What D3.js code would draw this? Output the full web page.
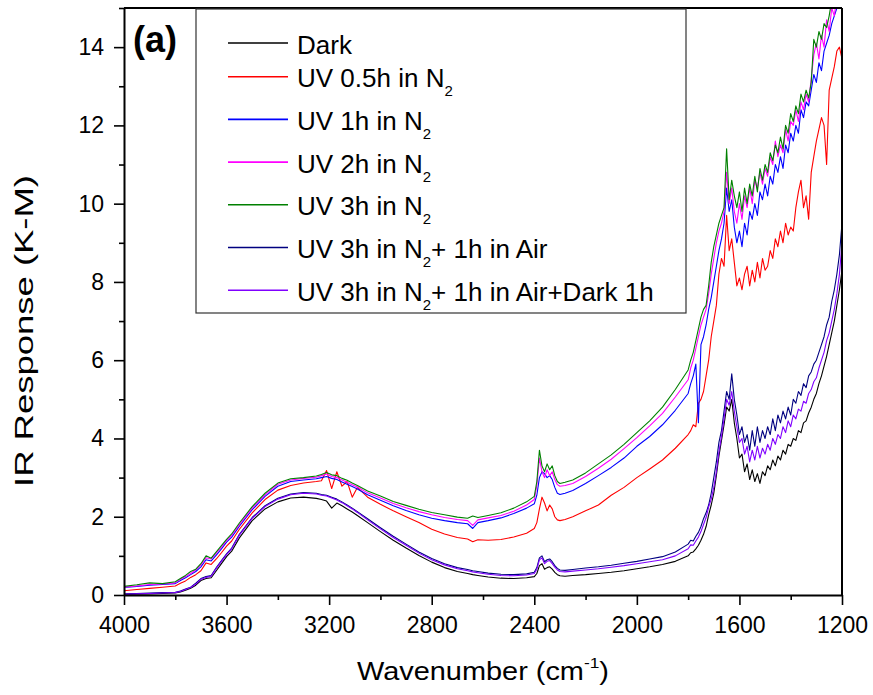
<!DOCTYPE html>
<html>
<head>
<meta charset="utf-8">
<script src="https://cdn.jsdelivr.net/npm/d3@7"></script>
<style>
  body { margin: 0; background: #fff; }
  svg { font-family: "Liberation Sans", Arial, sans-serif; }
  .axis path, .axis line { stroke: #000; }
  .axis text { font-size: 23px; fill: #000; font-family: "Liberation Sans", Arial, sans-serif; }
</style>
</head>
<body>
<div id="chart"></div>
<script>
// Define the parameters
const width = 873, height = 695;
const margin = {top: 8, right: 31, bottom: 100, left: 124};
const plotW = width - margin.left - margin.right;
const plotH = height - margin.top - margin.bottom;

// Wavenumber grid (cm-1), shared by all spectra
const wavenumber = [
  4000, 3950, 3900, 3850, 3800,
  3780, 3760, 3740, 3720, 3700, 3680, 3660, 3640, 3620, 3600, 3580,
  3550, 3500, 3450, 3400, 3350, 3300, 3250,
  3230, 3210, 3190, 3170, 3150, 3130, 3110, 3090,
  3050, 3000, 2950, 2900, 2850, 2800, 2750, 2700,
  2660, 2640, 2620, 2580, 2530, 2480, 2430,
  2400, 2390, 2380, 2370, 2360, 2350, 2340, 2330, 2320, 2310, 2300, 2280, 2250,
  2200, 2150, 2100, 2050, 2000, 1950, 1900, 1850, 1800,
  1790, 1780, 1770, 1760, 1750, 1740, 1730, 1720, 1710, 1700,
  1690, 1680, 1670, 1660, 1650, 1640, 1630, 1620, 1610, 1600,
  1590, 1580, 1570, 1560, 1550, 1540, 1530, 1520, 1510, 1500,
  1490, 1480, 1470, 1460, 1450, 1440, 1430, 1420, 1410, 1400,
  1390, 1380, 1370, 1360, 1350, 1340, 1330, 1320, 1310, 1300,
  1290, 1280, 1270, 1260, 1250, 1240, 1230, 1220, 1210, 1200
];

// IR response (K-M) for each treatment
const dark = [
  0.01, 0.02, 0.03, 0.04, 0.05,
  0.08, 0.12, 0.17, 0.25, 0.37, 0.42, 0.44, 0.62, 0.8, 0.98, 1.12,
  1.46, 1.9, 2.2, 2.38, 2.48, 2.5, 2.47,
  2.44, 2.4, 2.22, 2.35, 2.28, 2.2, 2.12, 2.03,
  1.85, 1.62, 1.4, 1.2, 1.01, 0.84, 0.7, 0.6,
  0.55, 0.52, 0.5, 0.46, 0.43, 0.42, 0.44,
  0.47, 0.55, 0.75, 0.8, 0.66, 0.7, 0.72, 0.66, 0.58, 0.52, 0.49, 0.48, 0.5,
  0.52, 0.55, 0.58, 0.62, 0.67, 0.72, 0.78, 0.86, 1.0,
  1.08, 1.1, 1.18, 1.27, 1.4, 1.55, 1.75, 2.05, 2.3, 2.6,
  3.05, 3.55, 3.95, 4.35, 4.8, 4.7, 5.0, 4.4, 4.0, 3.5,
  3.6, 3.15, 3.35, 2.95, 3.2, 2.9, 3.1, 2.85, 3.15, 3.05,
  3.3, 3.2, 3.45, 3.3, 3.55, 3.45, 3.7, 3.6, 3.85, 3.8,
  4.0, 3.95, 4.2, 4.15, 4.4, 4.45, 4.65, 4.8, 5.0, 5.15,
  5.4, 5.6, 5.85, 6.1, 6.4, 6.7, 7.0, 7.4, 7.8, 8.3
];
const uv05 = [
  0.11, 0.14, 0.17, 0.2, 0.23,
  0.3, 0.36, 0.45, 0.52, 0.62, 0.82, 0.78, 0.92, 1.08, 1.25, 1.38,
  1.68, 2.1, 2.44, 2.68, 2.8, 2.86, 2.9,
  2.92, 3.18, 2.72, 3.15, 2.78, 2.9, 2.5, 2.75,
  2.5, 2.32, 2.15, 2.0, 1.85, 1.68, 1.56, 1.47,
  1.43, 1.36, 1.41, 1.4, 1.42, 1.48, 1.58,
  1.7, 1.85, 2.2, 2.5, 2.35, 2.15, 2.3, 2.2, 2.0, 1.92, 1.9, 1.93, 2.0,
  2.15, 2.3, 2.55, 2.75, 3.0, 3.22, 3.45, 3.75, 4.1,
  4.2, 4.35, 4.3, 4.9, 5.0, 5.2, 5.6, 6.0, 6.6, 7.0,
  7.4, 8.2, 8.6, 8.4, 9.7, 8.8, 9.1, 8.5, 7.9, 8.1,
  7.8, 8.2, 8.4, 7.9, 8.3, 8.0, 8.5, 8.1, 8.6, 8.3,
  8.4, 8.8, 8.6, 9.1, 8.9, 9.3, 9.0, 9.5, 9.2, 9.4,
  9.3, 9.9, 10.3, 10.6, 9.9, 10.2, 9.6, 10.8, 11.2, 11.6,
  11.9, 12.2, 12.0, 11.0, 12.9, 13.2, 13.5, 13.9, 14.0, 13.7
];
const uv1 = [
  0.19, 0.22, 0.25, 0.27, 0.29,
  0.37, 0.44, 0.52, 0.6, 0.72, 0.9, 0.87, 1.02, 1.18, 1.35, 1.48,
  1.76, 2.18, 2.52, 2.78, 2.9, 2.94, 2.97,
  3.0, 3.03, 2.98, 2.95, 2.89, 2.83, 2.77, 2.71,
  2.56, 2.42, 2.28, 2.16, 2.05, 1.96, 1.9, 1.85,
  1.82, 1.7, 1.85, 1.9, 1.97, 2.08, 2.22,
  2.33, 2.55, 3.0, 3.15, 3.1, 3.0, 3.05, 2.95, 2.75, 2.6, 2.57, 2.6, 2.67,
  2.85, 3.05, 3.26, 3.5, 3.8, 4.05, 4.35, 4.72, 5.15,
  5.4, 5.6, 5.9, 4.4, 6.4, 6.6, 6.9, 7.3, 7.6, 8.0,
  8.4, 8.8, 9.1, 9.5, 10.4, 9.8, 10.1, 9.4, 9.0, 9.3,
  8.9, 9.5, 9.2, 9.8, 9.6, 10.0, 9.7, 10.3, 10.1, 10.5,
  10.2, 10.7, 10.5, 11.0, 10.8, 11.2, 10.9, 11.5, 11.3, 11.8,
  11.6, 12.0, 11.8, 12.4, 12.2, 12.6, 12.5, 12.9, 13.3, 13.1,
  13.6, 13.4, 13.9, 14.1, 14.3, 14.6, 14.8, 15.0, 15.2, 15.3
];
const uv2 = [
  0.2, 0.23, 0.27, 0.28, 0.31,
  0.4, 0.47, 0.55, 0.64, 0.77, 0.95, 0.92, 1.07, 1.22, 1.39, 1.52,
  1.8, 2.22, 2.56, 2.83, 2.94, 2.98, 3.01,
  3.05, 3.09, 3.03, 3.0, 2.94, 2.88, 2.82, 2.76,
  2.61, 2.48, 2.34, 2.23, 2.13, 2.05, 1.98, 1.93,
  1.9, 1.78, 1.92, 1.97, 2.03, 2.14, 2.3,
  2.44, 2.8, 3.5, 3.15, 3.0, 3.2, 3.05, 3.15, 2.95, 2.82, 2.78, 2.8, 2.85,
  3.03, 3.24, 3.47, 3.74, 4.02, 4.32, 4.64, 5.06, 5.5,
  5.8, 6.0, 6.3, 6.6, 6.9, 7.1, 7.3, 7.7, 8.2, 8.6,
  9.0, 9.3, 9.5, 9.8, 10.8, 10.0, 10.4, 9.8, 9.5, 10.0,
  9.6, 10.2, 9.9, 10.4, 10.0, 10.6, 10.4, 10.8, 10.5, 10.9,
  10.7, 11.2, 11.0, 11.6, 11.2, 11.5, 11.3, 11.9, 11.6, 12.1,
  12.0, 12.4, 12.1, 12.6, 12.4, 12.8, 12.6, 13.2, 13.8, 14.1,
  13.7, 14.3, 14.0, 14.7, 14.4, 15.0, 14.8, 15.3, 15.4, 15.6
];
const uv3 = [
  0.22, 0.26, 0.31, 0.29, 0.34,
  0.42, 0.5, 0.6, 0.66, 0.8, 1.0, 0.94, 1.1, 1.26, 1.42, 1.56,
  1.84, 2.26, 2.6, 2.86, 2.97, 3.0, 3.04,
  3.08, 3.13, 3.07, 3.05, 2.98, 2.93, 2.86, 2.8,
  2.66, 2.53, 2.39, 2.29, 2.19, 2.11, 2.05, 1.99,
  1.96, 2.02, 1.98, 2.03, 2.1, 2.22, 2.38,
  2.52, 2.9, 3.7, 3.3, 3.15, 3.35, 3.2, 3.3, 3.05, 2.9, 2.85, 2.88, 2.94,
  3.12, 3.35, 3.58, 3.85, 4.15, 4.45, 4.8, 5.25, 5.75,
  6.0, 6.2, 6.5, 6.8, 7.1, 7.3, 7.4, 7.9, 8.5, 8.9,
  9.2, 9.5, 9.7, 9.9, 11.4, 10.1, 10.6, 10.2, 9.9, 10.3,
  9.8, 10.4, 10.0, 10.5, 10.2, 10.7, 10.3, 10.9, 10.6, 11.0,
  10.8, 11.3, 11.1, 11.5, 11.3, 11.7, 11.4, 12.0, 11.8, 12.3,
  12.1, 12.5, 12.3, 12.8, 12.6, 12.9, 12.7, 13.1, 14.2, 14.0,
  14.4, 14.2, 14.6, 14.5, 14.8, 15.2, 15.3, 15.5, 15.6, 15.8
];
const uv3Air = [
  0.03, 0.04, 0.05, 0.06, 0.07,
  0.1, 0.15, 0.2, 0.3, 0.42, 0.47, 0.5, 0.7, 0.88, 1.05, 1.2,
  1.55, 1.98, 2.28, 2.47, 2.58, 2.62, 2.6,
  2.57, 2.55, 2.5, 2.45, 2.38, 2.3, 2.22, 2.13,
  1.95, 1.72, 1.5, 1.3, 1.1, 0.93, 0.8, 0.7,
  0.65, 0.62, 0.6, 0.56, 0.53, 0.52, 0.54,
  0.58, 0.7, 0.95, 1.0, 0.85, 0.9, 0.92, 0.85, 0.75, 0.68, 0.64, 0.63, 0.65,
  0.69, 0.72, 0.76, 0.81, 0.86, 0.92, 0.98, 1.1, 1.3,
  1.4, 1.38, 1.5, 1.6, 1.75, 1.95, 2.1, 2.3, 2.6, 3.0,
  3.4, 3.9, 4.2, 4.7, 5.2, 5.0, 5.65, 5.0, 4.6, 4.1,
  4.3, 3.9, 4.1, 3.7, 4.2, 3.8, 4.3, 3.9, 4.2, 4.0,
  4.3, 4.1, 4.5, 4.2, 4.6, 4.4, 4.7, 4.5, 4.8, 4.6,
  5.0, 4.9, 5.2, 5.1, 5.4, 5.3, 5.6, 5.7, 5.9, 6.0,
  6.2, 6.4, 6.6, 6.9, 7.1, 7.5, 7.8, 8.2, 8.7, 9.5
];
const uv3AirDark = [
  0.02, 0.03, 0.04, 0.05, 0.06,
  0.09, 0.14, 0.19, 0.28, 0.4, 0.45, 0.48, 0.68, 0.86, 1.03, 1.18,
  1.53, 1.96, 2.26, 2.45, 2.56, 2.6, 2.58,
  2.55, 2.53, 2.48, 2.43, 2.36, 2.28, 2.2, 2.11,
  1.92, 1.69, 1.47, 1.27, 1.07, 0.9, 0.77, 0.67,
  0.62, 0.59, 0.57, 0.53, 0.5, 0.49, 0.51,
  0.55, 0.66, 0.9, 0.95, 0.8, 0.86, 0.88, 0.8, 0.71, 0.64, 0.6, 0.59, 0.61,
  0.64, 0.67, 0.71, 0.75, 0.8, 0.85, 0.9, 1.0, 1.18,
  1.28, 1.27, 1.38, 1.48, 1.62, 1.8, 1.98, 2.25, 2.45, 2.75,
  3.15, 3.65, 4.05, 4.5, 5.0, 4.85, 5.2, 4.7, 4.3, 3.9,
  4.0, 3.6, 3.8, 3.4, 3.7, 3.45, 3.8, 3.5, 3.75, 3.6,
  3.85, 3.7, 4.0, 3.85, 4.1, 4.0, 4.3, 4.15, 4.45, 4.3,
  4.6, 4.5, 4.75, 4.7, 4.95, 4.9, 5.15, 5.25, 5.45, 5.55,
  5.8, 6.0, 6.2, 6.5, 6.7, 7.0, 7.3, 7.7, 8.2, 9.0
];

// Legend labels (main text, subscript, trailing text) and colours
const seriesNames = [
  ["Dark", "", ""],
  ["UV 0.5h in N", "2", ""],
  ["UV 1h in N", "2", ""],
  ["UV 2h in N", "2", ""],
  ["UV 3h in N", "2", ""],
  ["UV 3h in N", "2", "+ 1h in Air"],
  ["UV 3h in N", "2", "+ 1h in Air+Dark 1h"]
];
const seriesColors = ["#000000", "#ff0000", "#0000ff", "#ff00ff", "#008000", "#000080", "#8000ff"];
const seriesValues = [dark, uv05, uv1, uv2, uv3, uv3Air, uv3AirDark];

// Axis ticks
const xMajorTicks = [4000, 3600, 3200, 2800, 2400, 2000, 1600, 1200];
const xMinorTicks = [3800, 3400, 3000, 2600, 2200, 1800, 1400];
const yMajorTicks = [0, 2, 4, 6, 8, 10, 12, 14];
const yMinorTicks = [1, 3, 5, 7, 9, 11, 13, 15];

// Create an SVG container
const svg = d3.select("#chart")
    .append("svg")
    .attr("width", width)
    .attr("height", height);

const g = svg.append("g")
    .attr("transform", "translate(" + margin.left + "," + margin.top + ")");

// Scales
const x = d3.scaleLinear().domain([4000, 1200]).range([0, plotW]);
const y = d3.scaleLinear().domain([0, 15]).range([plotH, 0]);

g.append("clipPath").attr("id", "plot-clip")
    .append("rect").attr("width", plotW).attr("height", plotH);

// Spectra
const line = d3.line()
    .x(d => x(d[0]))
    .y(d => y(d[1]));

seriesValues.forEach((vals, i) => {
    g.append("path")
        .datum(wavenumber.map((w, j) => [w, vals[j]]))
        .attr("clip-path", "url(#plot-clip)")
        .attr("fill", "none")
        .attr("stroke", seriesColors[i])
        .attr("stroke-width", 1.1)
        .attr("stroke-linejoin", "round")
        .attr("d", line);
});

// Axes
g.append("g")
    .attr("class", "axis")
    .attr("transform", "translate(0," + plotH + ")")
    .call(d3.axisBottom(x).tickValues(xMajorTicks).tickFormat(d3.format("d"))
        .tickSize(10).tickSizeOuter(0).tickPadding(12))
    .call(a => a.selectAll("line").attr("stroke-width", 1.6))
    .call(a => a.select(".domain").attr("stroke-width", 2));

g.append("g")
    .attr("class", "axis")
    .attr("transform", "translate(0," + plotH + ")")
    .call(d3.axisBottom(x).tickValues(xMinorTicks).tickFormat("").tickSize(5).tickSizeOuter(0))
    .call(a => a.selectAll("line").attr("stroke-width", 1.6))
    .call(a => a.select(".domain").remove());

g.append("g")
    .attr("class", "axis")
    .call(d3.axisLeft(y).tickValues(yMajorTicks).tickSize(10).tickSizeOuter(0).tickPadding(10))
    .call(a => a.selectAll("line").attr("stroke-width", 1.6))
    .call(a => a.select(".domain").attr("stroke-width", 2));

g.append("g")
    .attr("class", "axis")
    .call(d3.axisLeft(y).tickValues(yMinorTicks).tickFormat("").tickSize(5).tickSizeOuter(0))
    .call(a => a.selectAll("line").attr("stroke-width", 1.6))
    .call(a => a.select(".domain").remove());

// Top and right frame
g.append("line").attr("x1", 0).attr("x2", plotW).attr("y1", 0).attr("y2", 0)
    .attr("stroke", "#000").attr("stroke-width", 2);
g.append("line").attr("x1", plotW).attr("x2", plotW).attr("y1", 0).attr("y2", plotH)
    .attr("stroke", "#000").attr("stroke-width", 2);

// Axis titles
const xTitle = svg.append("text")
    .attr("x", margin.left + plotW / 2)
    .attr("y", 680)
    .attr("text-anchor", "middle")
    .attr("font-size", 25)
    .attr("textLength", 252)
    .attr("lengthAdjust", "spacingAndGlyphs");
xTitle.append("tspan").text("Wavenumber (cm");
xTitle.append("tspan").attr("font-size", 15).attr("dy", -12).text("-1");
xTitle.append("tspan").attr("dy", 12).text(")");

svg.append("text")
    .attr("transform", "translate(33,331) rotate(-90)")
    .attr("text-anchor", "middle")
    .attr("font-size", 26)
    .attr("textLength", 312)
    .attr("lengthAdjust", "spacingAndGlyphs")
    .text("IR Response (K-M)");

// Panel label
g.append("text")
    .attr("x", 9)
    .attr("y", 44)
    .attr("font-size", 36)
    .attr("font-weight", "bold")
    .text("(a)");

// Legend
const legend = svg.append("g").attr("transform", "translate(196,9)");
legend.append("rect")
    .attr("width", 490).attr("height", 304)
    .attr("fill", "#fff")
    .attr("stroke", "#333").attr("stroke-width", 1.2);

seriesNames.forEach((name, i) => {
    const ly = i === 0 ? 34 : 25 + i * 42.7;
    legend.append("line")
        .attr("x1", 32).attr("x2", 92)
        .attr("y1", ly).attr("y2", ly)
        .attr("stroke", seriesColors[i])
        .attr("stroke-width", 1.6);
    const t = legend.append("text")
        .attr("x", 101)
        .attr("y", ly + 10.5)
        .attr("font-size", 26);
    t.append("tspan").text(name[0]);
    if (name[1]) {
        t.append("tspan").attr("font-size", 15).attr("dy", 9).text(name[1]);
        if (name[2]) t.append("tspan").attr("dy", -9).text(name[2]);
    }
});
</script>
</body>
</html>
